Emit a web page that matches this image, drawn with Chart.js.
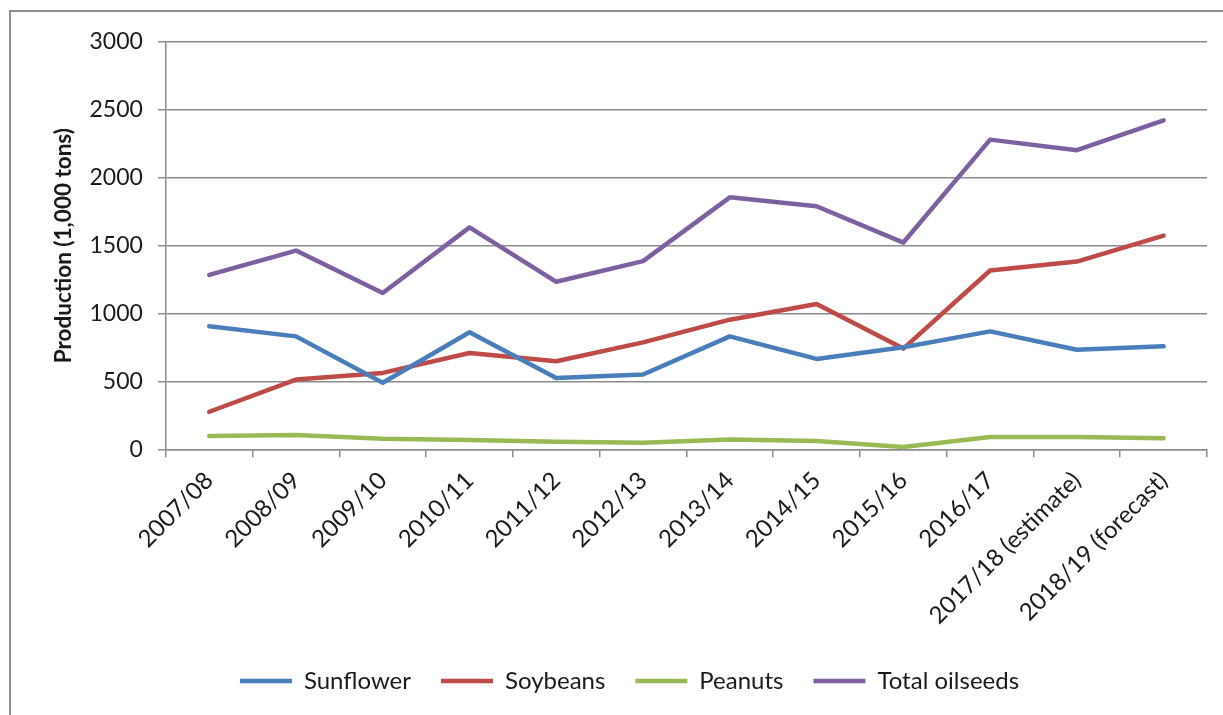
<!DOCTYPE html>
<html>
<head>
<meta charset="utf-8">
<script src="https://cdn.jsdelivr.net/npm/chart.js@4.4.1/dist/chart.umd.min.js"></script>
<style>
  html, body { margin: 0; padding: 0; background: #fff; overflow: hidden; }
  #frame { position: absolute; left: 9px; top: 10px; width: 1400px; height: 900px; border: 2px solid #8e8e8e; }
  #wrap { position: absolute; left: 0; top: 0; width: 1223px; height: 715px; }
</style>
</head>
<body>
<div id="frame"></div>
<div id="wrap"><canvas id="chart_oilseeds"></canvas></div>
<script>
const seasons = ['2007/08', '2008/09', '2009/10', '2010/11', '2011/12', '2012/13',
    '2013/14', '2014/15', '2015/16', '2016/17', '2017/18 (estimate)', '2018/19 (forecast)'];
const sunflower = [906, 832, 490, 862, 526, 551, 832, 666, 752, 869, 734, 759];
const soybeans = [277, 514, 563, 710, 649, 788, 955, 1070, 742, 1317, 1383, 1574];
const peanuts = [98, 105, 78, 69, 56, 49, 73, 61, 17, 91, 91, 81];
const totalOilseeds = [1285, 1464, 1151, 1635, 1234, 1386, 1856, 1790, 1523, 2281, 2203, 2423];
const yTicks = [0, 500, 1000, 1500, 2000, 2500, 3000];

const gridColor = '#8c8c8c';
const textColor = '#1a1a1a';
const fontFamily = 'Lato, "Open Sans", sans-serif';

function series(label, data, color) {
    return {
        label: label,
        data: data,
        borderColor: color,
        backgroundColor: color,
        borderWidth: 4.5,
        borderCapStyle: 'round',
        borderJoinStyle: 'round',
        pointRadius: 0,
        pointHoverRadius: 0,
        tension: 0
    };
}

new Chart(document.getElementById('chart_oilseeds'), {
    type: 'line',
    data: {
        labels: seasons,
        datasets: [
            series('Sunflower', sunflower, '#4a7ebb'),
            series('Soybeans', soybeans, '#be4b48'),
            series('Peanuts', peanuts, '#98b954'),
            series('Total oilseeds', totalOilseeds, '#7d60a0')
        ]
    },
    options: {
        responsive: true,
        maintainAspectRatio: false,
        animation: false,
        layout: {
            padding: { top: 42, right: 16, bottom: 12, left: 52 }
        },
        scales: {
            x: {
                offset: true,
                grid: {
                    offset: true,
                    drawOnChartArea: false,
                    tickLength: 8,
                    color: gridColor,
                    lineWidth: 1.5
                },
                border: { color: gridColor, width: 1.5 },
                ticks: {
                    minRotation: 45,
                    maxRotation: 45,
                    autoSkip: false,
                    color: textColor,
                    font: { family: fontFamily, size: 24 },
                    padding: 9
                }
            },
            y: {
                min: 0,
                max: 3000,
                afterBuildTicks: axis => { axis.ticks = yTicks.map(v => ({ value: v })); },
                grid: {
                    tickLength: 8,
                    color: gridColor,
                    lineWidth: 1.5
                },
                border: { color: gridColor, width: 1.5 },
                ticks: {
                    color: textColor,
                    font: { family: fontFamily, size: 23 },
                    padding: 15,
                    callback: value => String(value)
                },
                title: {
                    display: true,
                    text: 'Production (1,000 tons)',
                    color: textColor,
                    font: { family: fontFamily, size: 22.5, weight: 'bold', lineHeight: 1 },
                    padding: { top: 0, bottom: 0 }
                }
            }
        },
        plugins: {
            legend: {
                display: true,
                position: 'bottom',
                labels: {
                    usePointStyle: true,
                    pointStyle: 'line',
                    pointStyleWidth: 52,
                    color: textColor,
                    font: { family: fontFamily, size: 24 },
                    padding: 30
                }
            },
            tooltip: { enabled: false }
        }
    }
});
</script>
</body>
</html>
